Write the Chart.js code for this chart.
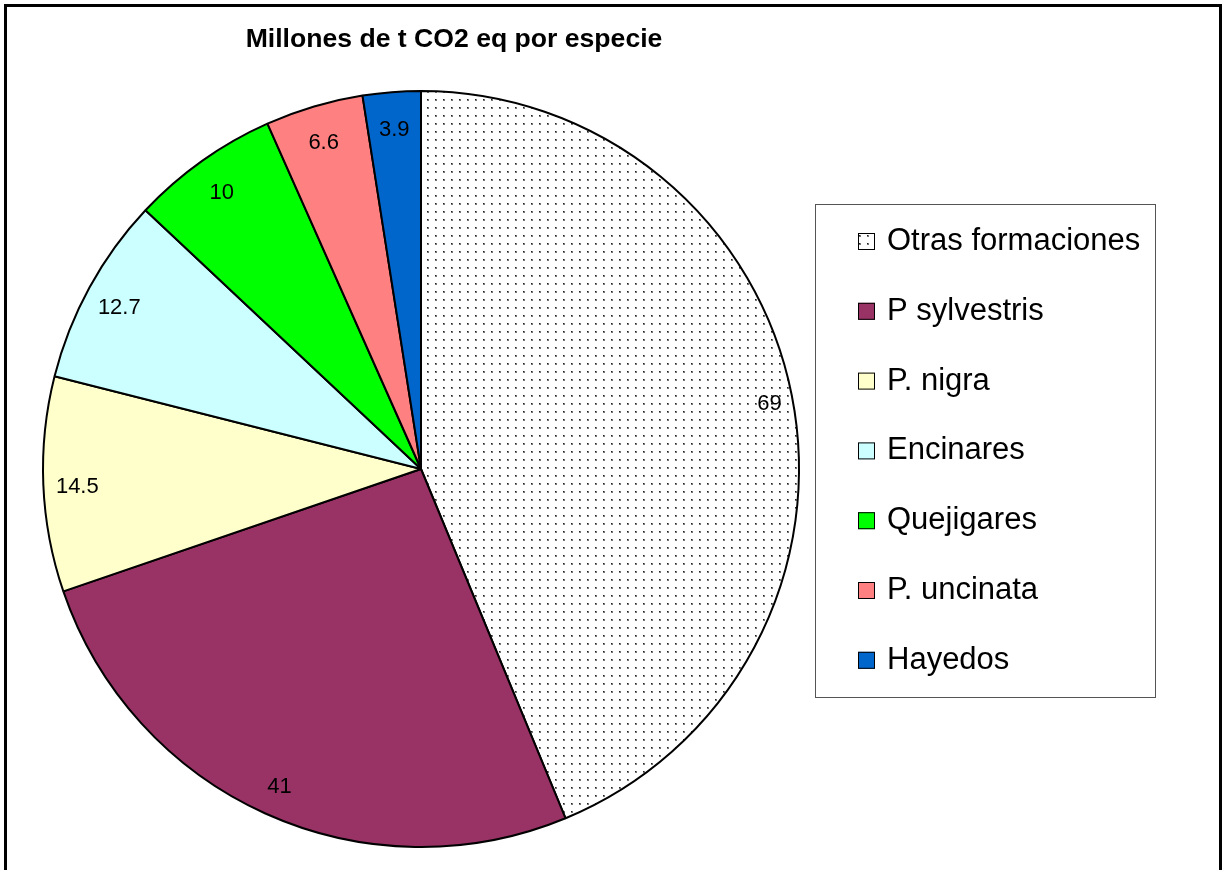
<!DOCTYPE html>
<html>
<head>
<meta charset="utf-8">
<script src="https://cdn.jsdelivr.net/npm/chart.js@4.4.1/dist/chart.umd.min.js"></script>
<style>
  html, body { margin: 0; padding: 0; background: #fff; }
  #wrap { position: relative; width: 1222px; height: 870px; }
</style>
</head>
<body>
<div id="wrap"><canvas id="pieCanvas" width="1222" height="870"></canvas></div>
<script>
var chartTitle = 'Millones de t CO2 eq por especie';
var species = ['Otras formaciones', 'P sylvestris', 'P. nigra', 'Encinares', 'Quejigares', 'P. uncinata', 'Hayedos'];
var carbonValues = [69, 41, 14.5, 12.7, 10, 6.6, 3.9];
var valueLabels = ['69', '41', '14.5', '12.7', '10', '6.6', '3.9'];
var sliceColors = [null, '#993366', '#ffffcc', '#ccffff', '#00ff00', '#ff8080', '#0066cc'];

var FONT = '"Liberation Sans", Arial, sans-serif';

function dotPattern() {
  var c = document.createElement('canvas');
  c.width = 8;
  c.height = 8;
  var g = c.getContext('2d');
  g.fillStyle = '#ffffff';
  g.fillRect(0, 0, 8, 8);
  g.fillStyle = '#777777';
  g.fillRect(3, 3, 2, 2);
  g.fillStyle = '#222222';
  g.fillRect(3, 3, 1, 1);
  return g.createPattern(c, 'repeat');
}

var ctx = document.getElementById('pieCanvas').getContext('2d');
var pattern = dotPattern();
var fills = sliceColors.map(function (c) { return c || pattern; });

// frame, title, value labels and boxed legend
var decor = {
  id: 'decor',
  beforeDraw: function (chart) {
    var g = chart.ctx;
    g.save();
    g.fillStyle = '#fff';
    g.fillRect(0, 0, chart.width, chart.height);
    g.restore();
  },
  afterDraw: function (chart) {
    var g = chart.ctx;
    g.save();
    g.strokeStyle = '#000';
    g.lineWidth = 3;
    g.strokeRect(5.5, 5.5, 1215, 900);

    g.fillStyle = '#000';
    g.font = 'bold 26.6px ' + FONT;
    g.textAlign = 'center';
    g.textBaseline = 'alphabetic';
    g.fillText(chartTitle, 454, 47);

    var meta = chart.getDatasetMeta(0);
    g.font = '22px ' + FONT;
    g.textBaseline = 'middle';
    meta.data.forEach(function (arc, i) {
      var a = (arc.startAngle + arc.endAngle) / 2;
      var r = arc.outerRadius * (i === 0 ? 0.94 : 0.91);
      g.fillText(valueLabels[i], arc.x + Math.cos(a) * r, arc.y + Math.sin(a) * r + 4);
    });

    g.strokeStyle = '#555';
    g.lineWidth = 1;
    g.strokeRect(815.5, 204.5, 340, 493);
    g.font = '31px ' + FONT;
    g.textAlign = 'left';
    g.textBaseline = 'alphabetic';
    species.forEach(function (name, i) {
      var base = 250 + i * 69.8;
      g.fillStyle = fills[i];
      g.fillRect(858, base - 17, 17, 17);
      g.strokeStyle = '#000';
      g.strokeRect(858.5, base - 16.5, 16, 16);
      g.fillStyle = '#000';
      g.fillText(name, 887, base);
    });
    g.restore();
  }
};

new Chart(ctx, {
  type: 'pie',
  data: {
    labels: species,
    datasets: [{
      data: carbonValues,
      backgroundColor: fills,
      borderColor: '#000',
      borderWidth: 2
    }]
  },
  options: {
    responsive: false,
    animation: false,
    radius: 378,
    layout: { padding: { left: 43, right: 423, top: 91, bottom: 23 } },
    plugins: {
      legend: { display: false },
      tooltip: { enabled: false }
    }
  },
  plugins: [decor]
});
</script>
</body>
</html>
